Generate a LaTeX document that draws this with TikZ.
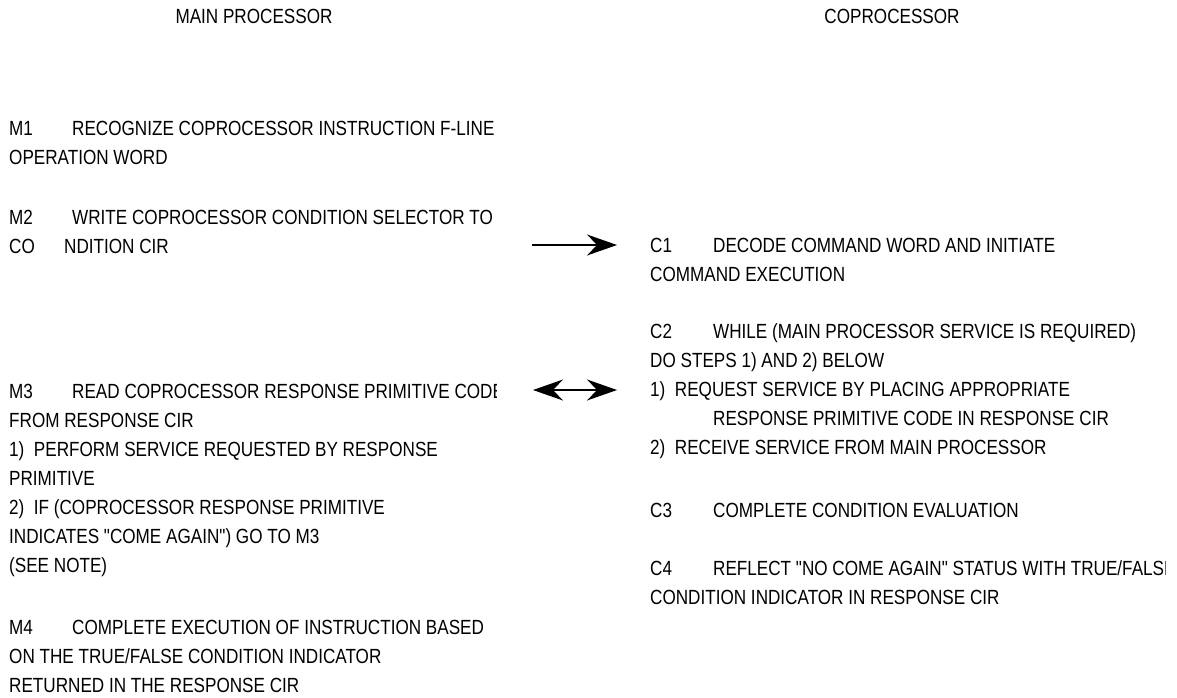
\documentclass[tikz,border=0pt]{standalone}
\usepackage{fontspec}
\setmainfont{Liberation Sans}[FakeStretch=0.835, Ligatures=TeXOff]
\usetikzlibrary{arrows.meta}
\newcommand{\tb}[1]{\makebox[63pt][l]{#1}}
\tikzset{
  txt/.style={anchor=base west, inner sep=0pt, align=left, font=\fontsize{20.5}{29}\selectfont},
  head/.style={anchor=base, inner sep=0pt, font=\fontsize{20.5}{29}\selectfont},
  arr/.style={line width=1.4pt, -{Stealth[length=30pt,width=21pt,inset=10pt]}},
  darr/.style={line width=1.4pt, {Stealth[length=30pt,width=21pt,inset=10pt]}-{Stealth[length=30pt,width=21pt,inset=10pt]}}
}
\begin{document}
\begin{tikzpicture}[x=1pt,y=-1pt]
\useasboundingbox (0,0) rectangle (1177,697);
\node[head] (hm) at (254,23) {MAIN PROCESSOR};
\node[head] (hc) at (892,23) {COPROCESSOR};
% multi-line nodes: anchor base = baseline of the last line
\node[txt] (m1) at (9,164) {\tb{M1}RECOGNIZE COPROCESSOR INSTRUCTION F-LINE\\OPERATION WORD};
\node[txt] (m2) at (9,253) {\tb{M2}WRITE COPROCESSOR CONDITION SELECTOR TO\\\makebox[55pt][l]{CO}NDITION CIR};
\begin{scope}
\clip (0,360) rectangle (496,410);
\node[txt] (m3) at (9,398) {\tb{M3}READ COPROCESSOR RESPONSE PRIMITIVE CODE};
\end{scope}
\node[txt] (m3b) at (9,572) {FROM RESPONSE CIR\\1)\ \ PERFORM SERVICE REQUESTED BY RESPONSE\\PRIMITIVE\\2)\ \ IF (COPROCESSOR RESPONSE PRIMITIVE\\INDICATES "COME AGAIN") GO TO M3\\(SEE NOTE)};
\node[txt] (m4) at (9,692) {\tb{M4}COMPLETE EXECUTION OF INSTRUCTION BASED\\ON THE TRUE/FALSE CONDITION INDICATOR\\RETURNED IN THE RESPONSE CIR};
\node[txt] (c1) at (650,281) {\tb{C1}DECODE COMMAND WORD AND INITIATE\\COMMAND EXECUTION};
\node[txt] (c2) at (650,454) {\tb{C2}WHILE (MAIN PROCESSOR SERVICE IS REQUIRED)\\DO STEPS 1) AND 2) BELOW\\1)\ \ REQUEST SERVICE BY PLACING APPROPRIATE\\\hspace*{63pt}RESPONSE PRIMITIVE CODE IN RESPONSE CIR\\2)\ \ RECEIVE SERVICE FROM MAIN PROCESSOR};
\node[txt] (c3) at (650,517) {\tb{C3}COMPLETE CONDITION EVALUATION};
\begin{scope}
\clip (600,540) rectangle (1165,620);
\node[txt] (c4) at (650,604) {\tb{C4}REFLECT "NO COME AGAIN" STATUS WITH TRUE/FALSE\\CONDITION INDICATOR IN RESPONSE CIR};
\end{scope}
\coordinate (a1s) at (532,245);
\coordinate (a1e) at (617,245);
\coordinate (a2s) at (533,390);
\coordinate (a2e) at (617,390);
\draw[arr] (a1s) -- (a1e);
\draw[darr] (a2s) -- (a2e);
\end{tikzpicture}
\end{document}
